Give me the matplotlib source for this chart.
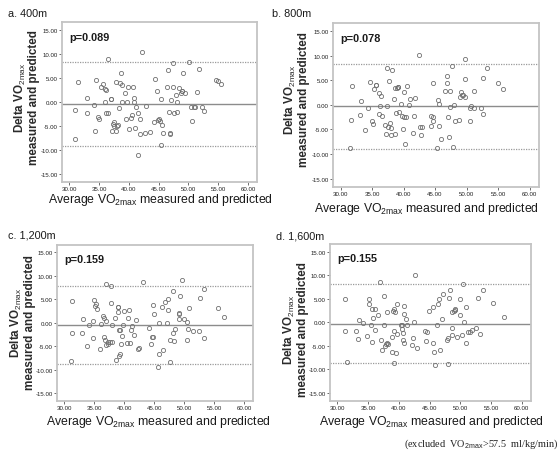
import matplotlib
matplotlib.use("Agg")
import matplotlib.pyplot as plt

# ---------------- data ----------------
a_x = [30.90, 31.02, 31.47, 32.99, 33.05, 34.24, 34.41, 34.52, 34.80, 35.03, 35.31, 35.65, 35.93, 36.05,
       36.10, 36.16, 36.44, 36.50, 36.95, 37.01, 37.12, 37.34, 37.51, 37.51, 37.80, 37.91, 38.02, 38.25,
       38.36, 38.59, 38.64, 38.87, 38.87, 39.32, 39.49, 39.66, 39.89, 40.06, 40.34, 40.51, 40.68, 40.85,
       40.85, 40.96, 41.19, 41.53, 41.81, 41.86, 42.26, 42.66, 42.88, 43.50, 44.24, 44.41, 44.69, 44.92,
       45.08, 45.20, 45.37, 45.48, 45.65, 45.76, 46.44, 46.50, 46.78, 46.84, 46.89, 47.06, 47.40, 47.46,
       47.57, 47.91, 48.08, 48.14, 48.47, 48.76, 48.87, 48.98, 49.15, 49.49, 50.06, 50.45, 50.62, 50.90,
       51.13, 51.36, 51.75, 52.32, 52.66, 54.58, 55.03, 55.48, 41.47]
a_y = [-7.8, -1.7, 4.2, 0.8, -2.3, -0.7, -6.1, 4.6, -3.1, -3.6, 3.1, 3.75, -0.1, 2.6,
       2.4, -2.3, -2.4, 9.0, 0.55, 0.55, -6.0, -4.6, -4.3, -5.0, -6.0, 4.2, -5.0, -4.9,
       -1.25, 3.9, 5.9, 3.5, 0.0, 1.8, -3.6, -0.05, 3.0, -5.6, -3.4, -2.8, 3.1, 0.75,
       0.0, -5.4, -1.05, -2.3, -3.6, -6.7, 10.4, -6.4, -0.9, -6.2, -4.2, 4.7, 2.3, -3.7,
       -3.5, -4.0, -9.0, 0.6, -4.9, -6.5, 3.05, 6.7, -2.15, -6.4, -6.7, 0.35, 3.05, 8.1,
       -2.4, 1.5, -0.1, -2.1, 2.85, 1.8, 2.3, 2.2, 6.0, 1.8, 8.3, -1.0, -4.0, -1.0,
       -1.0, 1.95, 6.9, -1.05, -2.0, 4.5, 4.4, 3.7, -11.0]

b_x = [31.44, 31.72, 31.78, 33.22, 33.06, 33.94, 34.33, 34.67, 35.00, 35.22, 35.28, 35.56, 35.67, 36.11,
       36.22, 36.17, 36.44, 36.56, 37.11, 37.28, 37.33, 37.44, 37.56, 37.72, 37.78, 37.94, 38.00, 38.22,
       38.50, 38.61, 38.72, 38.78, 38.89, 39.06, 39.11, 39.28, 39.61, 39.72, 39.89, 40.00, 40.22, 40.11,
       40.44, 40.56, 40.89, 41.00, 41.44, 41.72, 41.83, 42.50, 42.61, 42.89, 42.78, 44.33, 44.39, 44.67,
       44.72, 44.72, 45.33, 45.44, 45.56, 45.67, 46.00, 46.61, 46.89, 46.94, 47.00, 47.17, 47.44, 47.44,
       47.67, 47.78, 47.94, 48.17, 48.83, 48.89, 49.11, 49.22, 49.39, 49.72, 49.78, 49.83, 50.50, 50.56,
       50.72, 51.17, 51.11, 52.22, 52.61, 52.67, 53.22, 55.06, 55.72]
b_y = [-8.7, -3.0, 3.8, 0.8, -2.05, -5.05, -0.6, 4.6, -3.3, -3.9, 3.3, 4.0, 4.1, 2.4,
       -0.2, -1.9, 1.7, -2.3, -4.1, -6.0, 7.5, -0.3, -4.5, 4.8, -3.75, -4.8, -6.1, 7.0,
       1.1, 3.4, -5.9, -1.6, 3.4, 3.55, 3.55, -1.5, 0.1, -2.25, -4.9, -2.5, -7.9, 2.5,
       -2.5, 3.75, 0.0, 1.1, -5.7, -2.3, 1.4, 10.1, -4.6, -4.6, -6.1, -4.4, -2.25, 4.4,
       -2.4, -3.3, -8.8, 1.0, -4.4, 0.25, -7.0, 2.7, 4.35, 5.9, -2.4, -6.6, 2.7, -0.5,
       7.85, -8.5, 0.0, -3.3, -3.15, 1.6, 2.6, 2.05, 1.9, 1.6, 5.25, 9.2, -3.4, -0.7,
       -0.35, -0.75, 2.7, -0.7, -1.8, 5.4, 7.4, 4.35, 3.3]

c_x = [31.30, 31.30, 31.19, 33.11, 33.00, 33.73, 34.18, 34.75, 34.86, 34.97, 35.14, 35.37, 35.42, 36.10,
       35.99, 36.50, 36.67, 36.72, 36.84, 36.95, 36.95, 36.95, 37.29, 37.34, 37.63, 37.74, 37.85, 37.91,
       37.97, 38.42, 38.64, 38.98, 39.04, 39.04, 39.10, 39.15, 39.38, 39.38, 39.49, 39.66, 39.77, 40.06,
       40.40, 40.68, 40.85, 41.02, 41.07, 41.30, 41.69, 42.03, 42.37, 42.54, 43.16, 44.12, 44.46, 44.58,
       44.75, 44.80, 44.97, 45.59, 45.76, 45.82, 46.33, 46.55, 46.89, 47.12, 47.40, 47.40, 47.57, 47.63,
       48.14, 48.19, 48.31, 48.53, 49.15, 49.21, 49.21, 49.38, 49.72, 50.06, 50.45, 50.56, 50.68, 50.85,
       51.53, 52.54, 52.66, 53.28, 53.39, 55.71, 56.72]
c_y = [4.58, -2.29, -8.06, 0.83, -2.29, -4.86, -0.49, 0.35, -3.33, 4.86, 3.68, 4.10, 2.85, -0.28,
       -5.63, 1.53, 1.11, -3.06, -3.61, 0.35, 8.19, -4.79, -4.58, -4.03, -4.03, 7.85, 4.31, -0.42,
       -4.03, 0.97, -7.85, 3.26, 3.33, 2.29, -7.01, -1.46, -1.46, -6.67, -4.44, -2.92, -0.56, 2.50,
       -4.31, 1.11, 2.78, -4.38, -1.46, -0.76, -2.64, 0.56, -5.69, -5.28, 8.61, -1.18, -4.58, -3.06,
       -3.06, 3.89, 1.81, -9.51, -0.07, -6.60, 3.40, -5.83, 4.38, 0.00, 5.14, 2.64, -3.68, -8.40,
       6.80, -2.22, -3.96, -1.39, 0.90, 2.08, 1.88, 5.76, 9.17, 0.90, 0.07, -3.68, -1.39, 3.13,
       -1.67, -1.67, 5.28, 7.29, -3.19, 3.06, 1.32]

d_x = [31.28, 31.50, 31.22, 33.00, 33.33, 33.44, 34.22, 34.89, 35.22, 35.22, 35.56, 35.78, 36.11, 35.56,
       35.50, 36.17, 36.67, 37.00, 37.11, 37.28, 37.56, 37.61, 37.72, 37.94, 38.06, 38.11, 38.28, 38.89,
       38.94, 39.00, 39.22, 39.28, 39.44, 39.50, 39.22, 39.78, 39.72, 40.33, 40.44, 40.56, 40.61, 40.61,
       40.78, 40.83, 40.89, 41.22, 41.39, 42.17, 42.33, 42.50, 42.67, 42.94, 44.28, 44.39, 44.50, 44.89,
       45.50, 45.61, 45.72, 45.83, 46.28, 46.33, 46.61, 47.00, 47.11, 46.67, 47.83, 47.94, 48.17, 48.06,
       48.28, 48.61, 48.67, 48.72, 48.94, 49.06, 49.17, 49.50, 49.89, 50.00, 50.28, 50.50, 50.67, 50.89,
       51.00, 51.22, 51.50, 51.94, 52.50, 52.89, 53.22, 53.72, 55.28, 57.06]
d_y = [5.00, -8.49, -1.85, -1.85, -3.63, 0.48, -0.21, -3.01, 5.00, 3.77, 2.88, 0.89, 2.81, -4.25,
       -0.68, -1.58, 1.44, 8.49, -3.77, -5.82, 5.48, -0.55, -5.00, -4.66, 2.26, -4.38, -4.59, -3.22,
       -6.30, 2.47, 2.74, -1.92, 2.19, -6.58, -8.56, 3.97, -2.47, -0.68, -0.48, -1.51, -2.33, -3.70,
       1.71, 3.36, -4.32, 0.62, -0.68, -4.79, -3.36, 0.14, 9.93, -5.48, -1.85, -4.04, -2.05, 2.33,
       3.15, -4.32, -6.30, -9.04, -0.68, 3.77, 4.86, 0.75, 5.89, -5.82, -3.70, -3.36, 5.07, -8.90,
       6.78, -2.67, -1.23, 2.19, 2.47, 2.67, 2.74, -3.22, 1.44, 5.00, -2.67, 8.01, 0.07, 3.22,
       -4.32, -2.12, -1.99, -1.71, -1.16, 5.21, -2.40, 6.85, 4.18, 1.03]

titles = ["a. 400m", "b. 800m", "c. 1,200m", "d. 1,600m"]
p_texts = ["p=0.089", "p=0.078", "p=0.159", "p=0.155"]
means = [-0.5, -0.35, -0.4, -0.35]
uppers = [8.3, 8.25, 7.95, 8.1]
lowers = [-9.2, -8.95, -8.75, -8.55]
x_ticks = [30, 35, 40, 45, 50, 55, 60]
y_ticks = [-15, -10, -5, 0, 5, 10, 15]
xlabel_text = "Average VO$_{2max}$ measured and predicted"
ylabel_text = "Delta VO$_{2max}$\nmeasured and predicted"
footnote = "(excluded  VO$_{2max}$>57.5  ml/kg/min)"

xs = [a_x, b_x, c_x, d_x]
ys = [a_y, b_y, c_y, d_y]

# ---------------- layout ----------------
plt.rcParams["font.family"] = ["Liberation Sans", "DejaVu Sans"]
plt.rcParams["mathtext.fontset"] = "custom"
plt.rcParams["mathtext.rm"] = "Liberation Sans"
plt.rcParams["mathtext.it"] = "Liberation Sans"
plt.rcParams["mathtext.bf"] = "Liberation Sans:bold"

W, H = 559, 460
fig = plt.figure(figsize=(W / 100, H / 100), dpi=100)
fig.patch.set_facecolor("white")

# axes boxes in pixels: left, top, right, bottom
boxes = [(62, 23, 257, 183), (333, 24, 539, 188), (57, 246, 253, 402), (330, 245, 531, 402)]
title_pos = [(8, 14), (272, 14), (8, 235), (276, 237)]
xlabel_pos = [(160, 200), (426, 209), (158, 422), (431, 422)]
ylabel_pos = [(26, 98), (296, 100), (22, 323), (295, 330)]

spine_col = "#c4c4c4"
for i in range(4):
    l, t, r, b = boxes[i]
    ax = fig.add_axes([l / W, 1 - b / H, (r - l) / W, (b - t) / H])
    ax.set_xlim(28.8, 61.5)
    ax.set_ylim(-16.7, 16.6)
    ax.axhline(means[i], color="#8c8c8c", lw=1.0, zorder=1)
    ax.axhline(uppers[i], color="#9a9a9a", lw=0.9, ls=(0, (1, 1)), zorder=1)
    ax.axhline(lowers[i], color="#9a9a9a", lw=0.9, ls=(0, (1, 1)), zorder=1)
    ax.plot(xs[i], ys[i], ls="none", marker="o", ms=3.0, mfc="none",
            mec="#707070", mew=0.6, zorder=2)
    ax.set_xticks(x_ticks)
    ax.set_xticklabels([f"{v:.2f}" for v in x_ticks])
    ax.set_yticks(y_ticks)
    ax.set_yticklabels([f"{v:.2f}" for v in y_ticks])
    ax.tick_params(labelsize=4.4, length=2, width=0.6, color="#555555",
                   labelcolor="#222222", pad=1)
    for s in ax.spines.values():
        s.set_color(spine_col)
        s.set_linewidth(1.3)
    ax.text(0.035, 0.94, p_texts[i], transform=ax.transAxes, fontsize=7.8,
            fontweight="bold", color="#1a1a1a", va="top", ha="left")
    yx, yy = ylabel_pos[i]
    fig.text(yx / W, 1 - yy / H, ylabel_text, fontsize=8.4, fontweight="bold",
             color="#2a2a2a", rotation=90, ha="center", va="center",
             multialignment="center", linespacing=1.0)
    xx, xy = xlabel_pos[i]
    fig.text(xx / W, 1 - xy / H, xlabel_text, fontsize=8.8,
             color="#1a1a1a", ha="center", va="center")
    tx, ty = title_pos[i]
    fig.text(tx / W, 1 - ty / H, titles[i], fontsize=7.8, color="#1a1a1a",
             ha="left", va="center")

fig.text(0.999, 1 - 444 / H, footnote, fontsize=7.4, family="Liberation Serif",
         ha="right", va="center", color="#222222")

fig.savefig("out.png", dpi=100)
